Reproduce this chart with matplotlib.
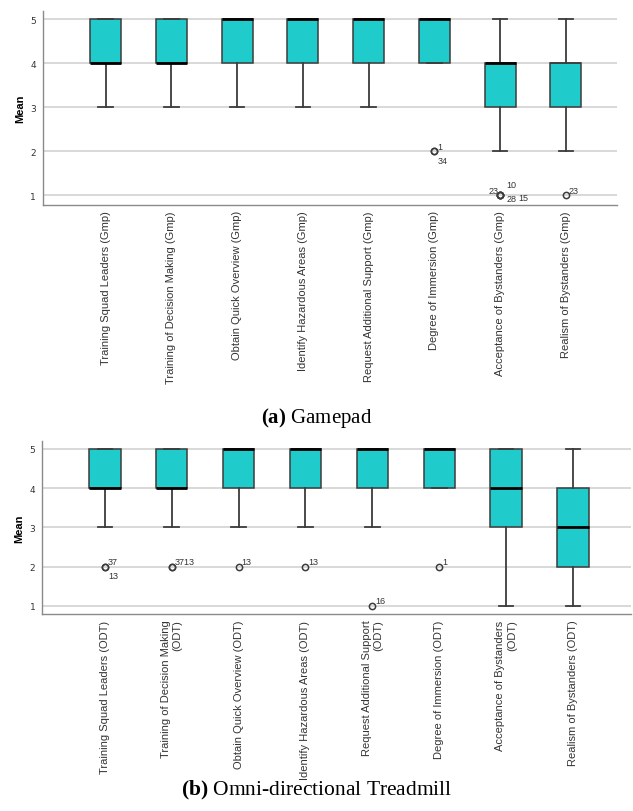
import matplotlib.pyplot as plt

# ---- data: Gamepad (Gmp) ----
gmp_labels = [
    "Training Squad Leaders (Gmp)",
    "Training of Decision Making (Gmp)",
    "Obtain Quick Overview (Gmp)",
    "Identify Hazardous Areas (Gmp)",
    "Request Additional Support (Gmp)",
    "Degree of Immersion (Gmp)",
    "Acceptance of Bystanders (Gmp)",
    "Realism of Bystanders (Gmp)",
]
gmp_q1 = [4, 4, 4, 4, 4, 4, 3, 3]
gmp_med = [4, 4, 5, 5, 5, 5, 4, 4]
gmp_q3 = [5, 5, 5, 5, 5, 5, 4, 4]
gmp_whislo = [3, 3, 3, 3, 3, 4, 2, 2]
gmp_whishi = [5, 5, 5, 5, 5, 5, 5, 5]
gmp_fliers = [[], [], [], [], [], [2, 2], [1, 1, 1, 1], [1]]
gmp_flier_ids = [[], [], [], [], [], ["1", "34"], ["23", "10", "28", "15"], ["23"]]

# ---- data: Omni-directional Treadmill (ODT) ----
odt_labels = [
    "Training Squad Leaders (ODT)",
    "Training of Decision Making\n(ODT)",
    "Obtain Quick Overview (ODT)",
    "Identify Hazardous Areas (ODT)",
    "Request Additional Support\n(ODT)",
    "Degree of Immersion (ODT)",
    "Acceptance of Bystanders\n(ODT)",
    "Realism of Bystanders (ODT)",
]
odt_q1 = [4, 4, 4, 4, 4, 4, 3, 2]
odt_med = [4, 4, 5, 5, 5, 5, 4, 3]
odt_q3 = [5, 5, 5, 5, 5, 5, 5, 4]
odt_whislo = [3, 3, 3, 3, 3, 4, 1, 1]
odt_whishi = [5, 5, 5, 5, 5, 5, 5, 5]
odt_fliers = [[2, 2], [2, 2], [2], [2], [1], [2], [], []]
odt_flier_ids = [["37", "13"], ["3713"], ["13"], ["13"], ["16"], ["1"], [], []]

BOX_COLOR = "#1fcbcb"
EDGE = "#3c3c3c"
TEXT = "#333333"

# label offsets (pixels) around an outlier marker
ID_OFFSETS = {
    1: [(3, 5)],
    2: [(3, 5), (3, -9)],
    4: [(-12, 5), (6, 11), (6, -3), (18, -2)],
}


def draw_panel(ax, labels, q1, med, q3, lo, hi, fliers, ids, no_median=()):
    stats = []
    for i in range(len(labels)):
        stats.append(dict(q1=q1[i], med=med[i], q3=q3[i], whislo=lo[i],
                          whishi=hi[i], fliers=fliers[i]))
    pos = list(range(1, len(labels) + 1))
    ax.set_axisbelow(True)
    ax.yaxis.grid(True, color="#d6d6d6", linewidth=1.3)
    res = ax.bxp(stats, positions=pos, widths=0.47, patch_artist=True,
                 boxprops=dict(facecolor=BOX_COLOR, edgecolor=EDGE, linewidth=1.1),
                 medianprops=dict(color="black", linewidth=2.0),
                 whiskerprops=dict(color=EDGE, linewidth=1.3),
                 capprops=dict(color=EDGE, linewidth=1.3),
                 capwidths=0.22,
                 flierprops=dict(marker="o", markersize=4.5, markerfacecolor="none",
                                 markeredgecolor=EDGE, markeredgewidth=1.1))
    for i in no_median:
        res["medians"][i].set_linewidth(1.1)
        res["medians"][i].set_color(EDGE)

    for i, (vals, names) in enumerate(zip(fliers, ids)):
        if not names:
            continue
        offs = ID_OFFSETS[len(names)]
        for name, (dx, dy) in zip(names, offs):
            ax.annotate(name, (pos[i], vals[0]), xytext=(dx, dy),
                        textcoords="offset pixels", fontsize=6.5, color=TEXT,
                        ha="left", va="center", family="Liberation Sans")

    ax.set_xticks(pos)
    ax.set_xticklabels(labels, rotation=90, fontsize=8, color=TEXT,
                       family="Liberation Sans", va="top", ha="center",
                       multialignment="right")
    ax.set_yticks([1, 2, 3, 4, 5])
    ax.tick_params(axis="both", length=0)
    ax.tick_params(axis="x", pad=4)
    ax.tick_params(axis="y", pad=5, labelsize=6.5, labelcolor=TEXT)
    ax.set_ylabel("Mean", fontsize=8, fontweight="bold", family="Liberation Sans",
                  labelpad=4)
    for side in ["top", "right"]:
        ax.spines[side].set_visible(False)
    for side in ["left", "bottom"]:
        ax.spines[side].set_color("#8a8a8a")
        ax.spines[side].set_linewidth(1.0)


def main():
    plt.rcParams["mathtext.fontset"] = "custom"
    plt.rcParams["mathtext.rm"] = "Liberation Serif"
    plt.rcParams["mathtext.bf"] = "Liberation Serif:bold"

    fig = plt.figure(figsize=(6.33, 8.12), dpi=100)

    ax_a = fig.add_axes([0.068, 0.7467, 0.907, 0.239])
    draw_panel(ax_a, gmp_labels, gmp_q1, gmp_med, gmp_q3, gmp_whislo, gmp_whishi,
               gmp_fliers, gmp_flier_ids, no_median=(7,))
    ax_a.set_xlim(0.05, 8.78)
    ax_a.set_ylim(0.78, 5.2)

    ax_b = fig.add_axes([0.067, 0.2426, 0.93, 0.213])
    draw_panel(ax_b, odt_labels, odt_q1, odt_med, odt_q3, odt_whislo, odt_whishi,
               odt_fliers, odt_flier_ids)
    ax_b.set_xlim(0.065, 8.87)
    ax_b.set_ylim(0.79, 5.2)

    fig.text(0.5, 1 - 418 / 812, r"$\mathbf{(a)}$ Gamepad", ha="center", va="center",
             fontsize=15, family="Liberation Serif")
    fig.text(0.5, 1 - 790 / 812, r"$\mathbf{(b)}$ Omni-directional Treadmill",
             ha="center", va="center", fontsize=15.5, family="Liberation Serif")

    fig.savefig("out.png", dpi=100)


if __name__ == "__main__":
    main()
